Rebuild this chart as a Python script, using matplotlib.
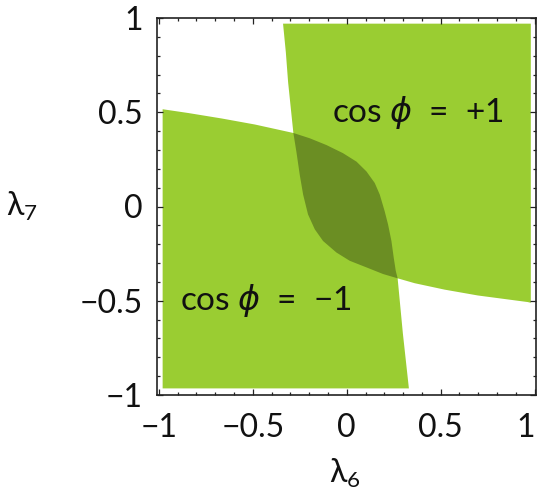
import numpy as np
import matplotlib as mpl
mpl.use('Agg')
import matplotlib.pyplot as plt
from matplotlib.patches import Polygon

# boundary of the cos(phi) = -1 region (top-left -> bottom)
minus_x = [-0.980, -0.844, -0.666, -0.489, -0.284, -0.197, -0.108, -0.020, 0.052, 0.105,
           0.149, 0.176, 0.202, 0.220, 0.238, 0.250, 0.261, 0.271, 0.299, 0.331]
minus_y = [0.516, 0.496, 0.467, 0.435, 0.390, 0.362, 0.326, 0.283, 0.238, 0.186,
           0.125, 0.063, -0.025, -0.095, -0.183, -0.270, -0.341, -0.381, -0.674, -0.965]

# boundary of the cos(phi) = +1 region (top -> right end)
plus_x = [-0.339, -0.324, -0.312, -0.284, -0.268, -0.250, -0.232, -0.206, -0.170, -0.126,
          -0.055, 0.016, 0.105, 0.193, 0.271, 0.362, 0.521, 0.698, 0.964, 0.980]
plus_y = [0.970, 0.817, 0.659, 0.390, 0.291, 0.168, 0.063, -0.042, -0.121, -0.183,
          -0.244, -0.288, -0.323, -0.358, -0.381, -0.407, -0.441, -0.472, -0.507, -0.511]

# corners of the sampled square
x_lo, x_hi = -0.980, 0.980
y_lo, y_hi = -0.965, 0.970

labels = ['cos $\\phi$  =  +1', 'cos $\\phi$  =  −1']
label_pos = [(0.38, 0.50), (-0.43, -0.50)]

tick_vals = [-1, -0.5, 0, 0.5, 1]
tick_text = ['−1', '−0.5', '0', '0.5', '1']

light = '#9acd32'
dark = '#6b8e23'
fnt = ['Lato', 'DejaVu Sans']

plt.rcParams['font.family'] = fnt
fs = 23

fig = plt.figure(figsize=(5.37, 4.92), dpi=100)
ax = fig.add_axes([157 / 537, 1 - 395 / 492, 378.5 / 537, 377 / 492])

minus_pts = list(zip(minus_x, minus_y)) + [(x_lo, y_lo)]
plus_pts = list(zip(plus_x, plus_y)) + [(x_hi, y_hi)]

minus_poly = Polygon(minus_pts, closed=True, fc=light, ec='none', zorder=1)
plus_poly = Polygon(plus_pts, closed=True, fc=light, ec='none', zorder=1)
ax.add_patch(minus_poly)
ax.add_patch(plus_poly)

# overlap: plus region redrawn darker, clipped to the minus region
overlap = Polygon(plus_pts, closed=True, fc=dark, ec='none', zorder=2)
ax.add_patch(overlap)
overlap.set_clip_path(minus_poly)

for txt, (tx, ty) in zip(labels, label_pos):
    ax.text(tx, ty, txt, ha='center', va='center', fontsize=24, color='#111111', zorder=3)

ax.set_xlim(-1.01, 1.005)
ax.set_ylim(-0.99, 0.995)

ax.set_xticks(tick_vals)
ax.set_xticklabels(tick_text)
ax.set_yticks(tick_vals)
ax.set_yticklabels(tick_text)
ax.set_xticks(np.arange(-1, 1.01, 0.1), minor=True)
ax.set_yticks(np.arange(-1, 1.01, 0.1), minor=True)

ax.tick_params(which='both', direction='in', top=True, right=True, width=0.9, color='#222222')
ax.tick_params(which='major', length=4.5, labelsize=fs, labelcolor='#111111')
ax.tick_params(which='minor', length=2.5)
ax.tick_params(axis='x', which='major', pad=13)
ax.tick_params(axis='y', which='major', pad=10)
ax.get_xticklabels()[-1].set_ha('right')

for sp in ax.spines.values():
    sp.set_color('#222222')
    sp.set_linewidth(1.2)

ax.set_xlabel('λ$_\\mathregular{6}$', fontsize=fs, color='#111111')
ax.set_ylabel('λ$_\\mathregular{7}$', fontsize=fs, color='#111111', rotation=0, ha='center', va='center')
ax.xaxis.set_label_coords(0.497, -0.207)
ax.xaxis.label.set_va('center')
ax.yaxis.set_label_coords(-0.357, 0.5)

plt.savefig('out.png', dpi=100)
plt.close()
